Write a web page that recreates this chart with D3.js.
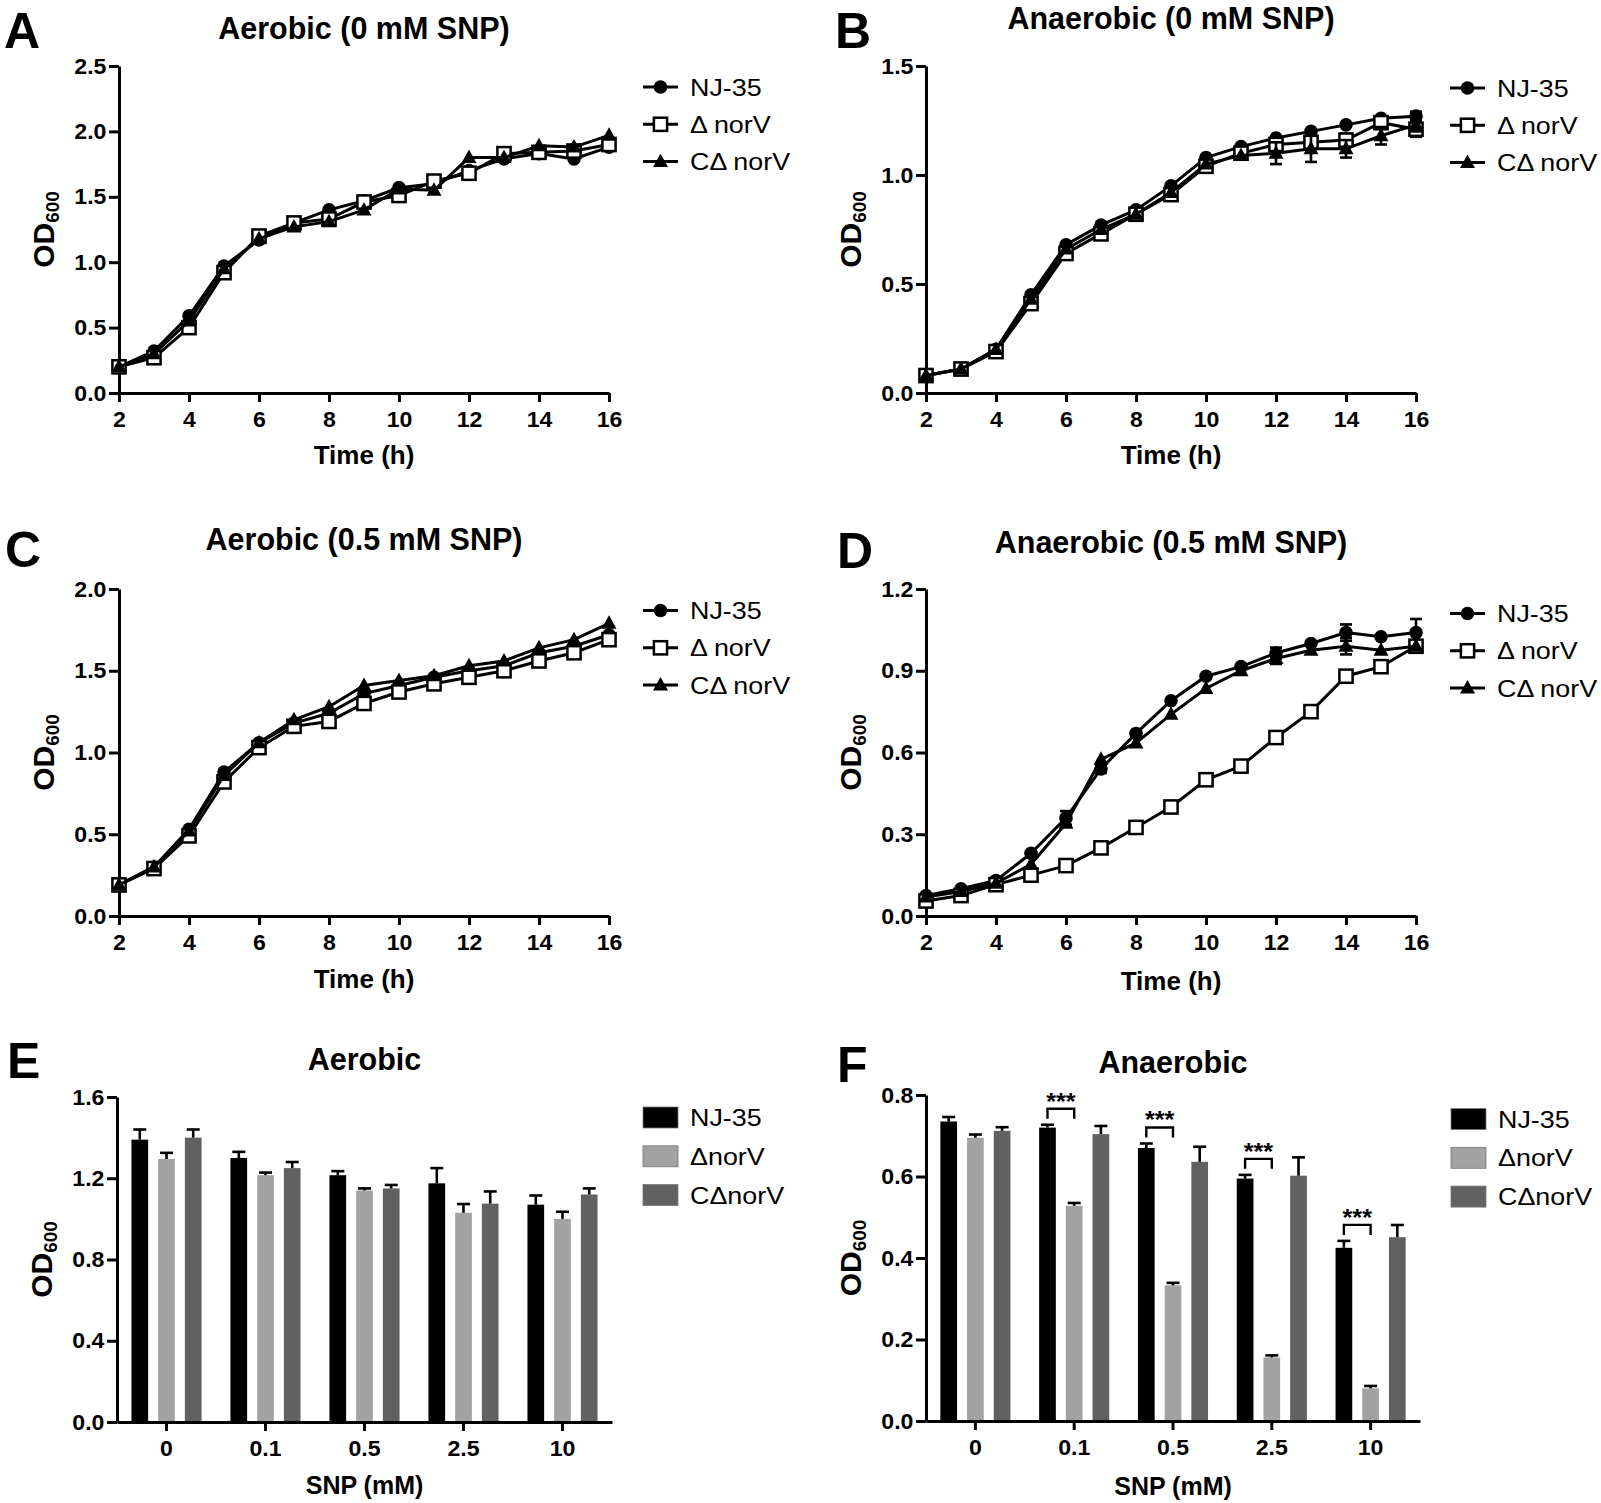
<!DOCTYPE html>
<html><head><meta charset="utf-8">
<script src="https://cdn.jsdelivr.net/npm/d3@7/dist/d3.min.js"></script>
<style>
body{margin:0;background:#fff}
svg{display:block}
text{font-family:"Liberation Sans",Arial,Helvetica,sans-serif;fill:#000}
</style>
</head><body>
<svg id="fig" width="1601" height="1503"></svg>
<script>
// ---------------- data ----------------
const times = [2,3,4,5,6,7,8,9,10,11,12,13,14,15,16];
const timeTicks = [2,4,6,8,10,12,14,16];
const lineSeriesNames = ["NJ-35","Δ norV","CΔ norV"];
const barSeriesNames = ["NJ-35","ΔnorV","CΔnorV"];
const snpLevels = ["0","0.1","0.5","2.5","10"];

// Panel A: Aerobic (0 mM SNP)
const aNJ   = [0.20,0.32,0.59,0.97,1.17,1.30,1.40,1.47,1.57,1.60,1.70,1.79,1.83,1.79,1.88];
const aDel  = [0.20,0.27,0.50,0.92,1.20,1.30,1.33,1.46,1.51,1.62,1.68,1.83,1.84,1.85,1.90];
const aComp = [0.20,0.30,0.55,0.95,1.18,1.27,1.31,1.40,1.56,1.55,1.80,1.80,1.89,1.88,1.97];
const aNJErr   = [0,0,0,0,0,0,0,0,0,0,0,0,0,0,0];
const aDelErr  = [0,0,0,0,0,0,0,0,0,0,0,0,0,0,0];
const aCompErr = [0,0,0,0,0,0,0,0,0,0,0,0,0,0,0];
const aTicks = [0,0.5,1.0,1.5,2.0,2.5];

// Panel B: Anaerobic (0 mM SNP)
const bNJ   = [0.08,0.11,0.20,0.45,0.68,0.77,0.84,0.95,1.08,1.13,1.17,1.20,1.23,1.26,1.27];
const bDel  = [0.08,0.11,0.19,0.41,0.64,0.73,0.82,0.91,1.04,1.10,1.14,1.15,1.16,1.24,1.21];
const bComp = [0.08,0.11,0.20,0.43,0.66,0.75,0.82,0.92,1.05,1.09,1.10,1.12,1.12,1.18,1.23];
const bNJErr   = [0,0,0,0,0,0,0,0,0,0,0,0,0,0,0.02];
const bDelErr  = [0,0,0,0,0,0,0,0,0,0,0.02,0.03,0.03,0.02,0.035];
const bCompErr = [0,0,0,0,0,0,0,0,0,0,0.05,0.06,0.04,0.04,0.03];
const bTicks = [0,0.5,1.0,1.5];

// Panel C: Aerobic (0.5 mM SNP)
const cNJ   = [0.19,0.30,0.53,0.88,1.06,1.18,1.24,1.36,1.41,1.46,1.50,1.53,1.61,1.65,1.72];
const cDel  = [0.19,0.29,0.49,0.82,1.03,1.16,1.19,1.30,1.37,1.42,1.46,1.50,1.56,1.61,1.69];
const cComp = [0.19,0.30,0.52,0.86,1.06,1.20,1.28,1.41,1.44,1.47,1.53,1.56,1.64,1.69,1.79];
const cNJErr   = [0,0,0,0,0,0,0,0,0,0,0,0,0,0,0];
const cDelErr  = [0,0,0,0,0,0,0,0,0,0,0,0,0,0,0];
const cCompErr = [0,0,0,0,0,0,0,0,0,0,0,0,0,0,0];
const cTicks = [0,0.5,1.0,1.5,2.0];

// Panel D: Anaerobic (0.5 mM SNP)
const dNJ   = [0.075,0.10,0.13,0.23,0.36,0.54,0.67,0.79,0.88,0.915,0.965,1.00,1.04,1.025,1.04];
const dDel  = [0.055,0.075,0.115,0.15,0.185,0.25,0.325,0.40,0.50,0.55,0.655,0.75,0.88,0.915,0.99];
const dComp = [0.07,0.09,0.12,0.19,0.34,0.575,0.635,0.74,0.835,0.90,0.945,0.975,0.99,0.975,0.99];
const dNJErr   = [0,0,0,0,0.025,0.015,0,0,0,0,0.02,0,0.03,0,0.05];
const dDelErr  = [0,0,0,0,0,0,0,0,0,0,0,0,0,0,0.015];
const dCompErr = [0,0,0,0,0,0,0,0,0,0,0.02,0,0.03,0,0];
const dTicks = [0,0.3,0.6,0.9,1.2];

// Panel E: Aerobic bars
const eNJ   = [1.39,1.30,1.215,1.175,1.07];
const eDel  = [1.295,1.215,1.14,1.03,1.00];
const eComp = [1.40,1.25,1.15,1.075,1.12];
const eNJErr   = [0.05,0.03,0.02,0.075,0.045];
const eDelErr  = [0.03,0.013,0.01,0.043,0.035];
const eCompErr = [0.04,0.03,0.017,0.06,0.03];
const eTicks = [0,0.4,0.8,1.2,1.6];

// Panel F: Anaerobic bars
const fNJ   = [0.735,0.72,0.67,0.595,0.425];
const fDel  = [0.695,0.528,0.333,0.156,0.08];
const fComp = [0.712,0.704,0.636,0.602,0.451];
const fNJErr   = [0.011,0.007,0.011,0.009,0.017];
const fDelErr  = [0.008,0.007,0.006,0.005,0.006];
const fCompErr = [0.009,0.02,0.037,0.045,0.03];
const fSig = ["","***","***","***","***"];
const fTicks = [0,0.2,0.4,0.6,0.8];

const barColors = ["#000000","#a2a2a2","#616161"];
// ---------------- drawing ----------------
const svg = d3.select("#fig");
const fmt1 = d3.format(".1f");

function label(g, x, y, txt, size, weight, anchor, sx){
  return g.append("text")
    .attr("transform", `translate(${x},${y}) scale(${sx||1},1)`)
    .attr("text-anchor", anchor)
    .attr("font-size", size)
    .attr("font-weight", weight)
    .text(txt);
}

function ylabel(g, x, y){
  const t = g.append("text")
    .attr("transform", `translate(${x},${y}) rotate(-90)`)
    .attr("text-anchor","middle")
    .attr("font-weight","bold");
  t.append("tspan").attr("font-size",30).text("OD");
  t.append("tspan").attr("font-size",19).attr("dy",5).text("600");
}

function styleAxis(ag){
  ag.attr("font-family",null).attr("font-size",null);
  ag.select(".domain").attr("stroke","#000").attr("stroke-width",3);
  ag.selectAll(".tick line").attr("stroke","#000").attr("stroke-width",3);
  ag.selectAll(".tick text").attr("font-size",22).attr("font-weight","bold")
    .attr("fill","#000").attr("transform","scale(1.05,1)");
}

function marker(g, kind, cx, cy){
  if(kind===0){
    g.append("circle").attr("cx",cx).attr("cy",cy).attr("r",6.8).attr("fill","#000");
  } else if(kind===1){
    g.append("rect").attr("x",cx-6.6).attr("y",cy-6.6).attr("width",13.2).attr("height",13.2)
      .attr("fill","#fff").attr("stroke","#000").attr("stroke-width",2.5);
  } else {
    g.append("path").attr("d",`M${cx},${cy-8}L${cx+7.5},${cy+5.5}L${cx-7.5},${cy+5.5}Z`).attr("fill","#000");
  }
}

function lineChart(cfg){
  const g = svg.append("g");
  const x = d3.scaleLinear().domain([2,16]).range([cfg.x0,cfg.x1]);
  const y = d3.scaleLinear().domain([0,cfg.ymax]).range([cfg.yb,cfg.yt]);
  const yax = g.append("g").attr("transform",`translate(${cfg.x0},0)`)
    .call(d3.axisLeft(y).tickValues(cfg.ticks).tickFormat(fmt1).tickSize(10).tickSizeOuter(0).tickPadding(2));
  styleAxis(yax);
  const xax = g.append("g").attr("transform",`translate(0,${cfg.yb})`)
    .call(d3.axisBottom(x).tickValues(timeTicks).tickFormat(d3.format("d")).tickSize(9).tickSizeOuter(0).tickPadding(9));
  styleAxis(xax);

  const line = d3.line().x(d=>x(d.t)).y(d=>y(d.v));
  cfg.series.forEach((s,si)=>{
    const pts = times.map((t,i)=>({t, v:s.v[i], e:s.e[i]}));
    const sg = g.append("g");
    sg.append("path").datum(pts).attr("d",line).attr("fill","none").attr("stroke","#000").attr("stroke-width",3);
    pts.filter(p=>p.e>0).forEach(p=>{
      const xx = x(p.t), y1 = y(p.v - p.e), y2 = y(p.v + p.e);
      sg.append("line").attr("x1",xx).attr("x2",xx).attr("y1",y1).attr("y2",y2).attr("stroke","#000").attr("stroke-width",2.6);
      [y1,y2].forEach(yy=>sg.append("line").attr("x1",xx-6).attr("x2",xx+6).attr("y1",yy).attr("y2",yy).attr("stroke","#000").attr("stroke-width",2.6));
    });
    pts.forEach(p=>marker(sg, si, x(p.t), y(p.v)));
  });

  // legend
  lineSeriesNames.forEach((n,i)=>{
    const ly = cfg.ly + i*37.3;
    g.append("line").attr("x1",cfg.lx).attr("x2",cfg.lx+35).attr("y1",ly).attr("y2",ly).attr("stroke","#000").attr("stroke-width",3);
    marker(g, i, cfg.lx+17.5, ly);
    label(g, cfg.lx+47, ly+8.5, n, 24, "normal", "start", 1.12);
  });

  label(g, (cfg.x0+cfg.x1)/2, cfg.titleY, cfg.title, 30.5, "bold", "middle", 1);
  label(g, cfg.letterX, cfg.letterY, cfg.letter, 50, "bold", "start", 1);
  label(g, (cfg.x0+cfg.x1)/2, cfg.xlabY, "Time (h)", 26, "bold", "middle", 1);
  ylabel(g, cfg.x0-65, (cfg.yt+cfg.yb)/2);
}

function barChart(cfg){
  const g = svg.append("g");
  const xb = d3.scaleBand().domain(snpLevels).range([cfg.x0,cfg.x1]).paddingInner(0).paddingOuter(0);
  const xi = d3.scaleBand().domain([0,1,2]).range([-35.05,35.05]).paddingInner(0.375).paddingOuter(0);
  const y = d3.scaleLinear().domain([0,cfg.ymax]).range([cfg.yb,cfg.yt]);

  cfg.series.forEach((s,si)=>{
    snpLevels.forEach((c,ci)=>{
      const cx = xb(c) + xb.bandwidth()/2 + xi(si);
      const w = xi.bandwidth();
      g.append("rect").attr("x",cx).attr("y",y(s.v[ci])).attr("width",w).attr("height",y(0)-y(s.v[ci]))
        .attr("fill",barColors[si]);
      const mx = cx + w/2, ytop = y(s.v[ci]+s.e[ci]);
      g.append("line").attr("x1",mx).attr("x2",mx).attr("y1",y(s.v[ci])).attr("y2",ytop).attr("stroke","#000").attr("stroke-width",2.6);
      g.append("line").attr("x1",mx-6.5).attr("x2",mx+6.5).attr("y1",ytop).attr("y2",ytop).attr("stroke","#000").attr("stroke-width",2.6);
    });
  });

  if(cfg.sig){
    cfg.sig.forEach((lab,ci)=>{
      if(!lab) return;
      const c0 = xb(snpLevels[ci]) + xb.bandwidth()/2;
      const xa = c0 + xi(0) + xi.bandwidth()/2;
      const xbb = c0 + xi(1) + xi.bandwidth()/2;
      const top = y(cfg.series[0].v[ci] + cfg.series[0].e[ci]) - 16;
      g.append("path").attr("d",`M${xa},${top+10}V${top}H${xbb}V${top+10}`).attr("fill","none").attr("stroke","#000").attr("stroke-width",2.4);
      label(g, (xa+xbb)/2, top+1, lab, 24, "bold", "middle", 1.05);
    });
  }

  const yax = g.append("g").attr("transform",`translate(${cfg.x0},0)`)
    .call(d3.axisLeft(y).tickValues(cfg.ticks).tickFormat(fmt1).tickSize(10).tickSizeOuter(0).tickPadding(2));
  styleAxis(yax);
  const xax = g.append("g").attr("transform",`translate(0,${cfg.yb})`)
    .call(d3.axisBottom(xb).tickSize(9).tickSizeOuter(0).tickPadding(9));
  styleAxis(xax);

  barSeriesNames.forEach((n,i)=>{
    const ly = cfg.ly + i*38.8;
    g.append("rect").attr("x",cfg.lx).attr("y",ly-10.5).attr("width",35).attr("height",21).attr("fill",barColors[i])
      .attr("stroke","#777").attr("stroke-width",0.8);
    label(g, cfg.lx+47, ly+8.5, n, 24, "normal", "start", 1.12);
  });

  label(g, (cfg.x0+cfg.x1)/2, cfg.titleY, cfg.title, 30.5, "bold", "middle", 1);
  label(g, cfg.letterX, cfg.letterY, cfg.letter, 50, "bold", "start", 1);
  label(g, (cfg.x0+cfg.x1)/2, cfg.xlabY, "SNP (mM)", 25, "bold", "middle", 1);
  ylabel(g, cfg.x0-65, (cfg.yt+cfg.yb)/2);
}

lineChart({x0:119,x1:609,yt:66,yb:393,ymax:2.5,ticks:aTicks,title:"Aerobic (0 mM SNP)",titleY:39,
  letter:"A",letterX:4,letterY:48,xlabY:464,lx:643,ly:87,
  series:[{v:aNJ,e:aNJErr},{v:aDel,e:aDelErr},{v:aComp,e:aCompErr}]});
lineChart({x0:926,x1:1416,yt:66,yb:393,ymax:1.5,ticks:bTicks,title:"Anaerobic (0 mM SNP)",titleY:29,
  letter:"B",letterX:835,letterY:48,xlabY:464,lx:1450,ly:88,
  series:[{v:bNJ,e:bNJErr},{v:bDel,e:bDelErr},{v:bComp,e:bCompErr}]});
lineChart({x0:119,x1:609,yt:589,yb:916,ymax:2.0,ticks:cTicks,title:"Aerobic (0.5 mM SNP)",titleY:550,
  letter:"C",letterX:5,letterY:567,xlabY:988,lx:643,ly:610.5,
  series:[{v:cNJ,e:cNJErr},{v:cDel,e:cDelErr},{v:cComp,e:cCompErr}]});
lineChart({x0:926,x1:1416,yt:589,yb:916,ymax:1.2,ticks:dTicks,title:"Anaerobic (0.5 mM SNP)",titleY:553,
  letter:"D",letterX:837,letterY:568,xlabY:990,lx:1450,ly:613.5,
  series:[{v:dNJ,e:dNJErr},{v:dDel,e:dDelErr},{v:dComp,e:dCompErr}]});
barChart({x0:117,x1:612,yt:1097,yb:1422,ymax:1.6,ticks:eTicks,title:"Aerobic",titleY:1070,
  letter:"E",letterX:7,letterY:1078,xlabY:1494,lx:643,ly:1117.5,
  series:[{v:eNJ,e:eNJErr},{v:eDel,e:eDelErr},{v:eComp,e:eCompErr}]});
barChart({x0:926,x1:1420,yt:1095,yb:1421,ymax:0.8,ticks:fTicks,title:"Anaerobic",titleY:1073,
  letter:"F",letterX:837,letterY:1082,xlabY:1495,lx:1451,ly:1119,sig:fSig,
  series:[{v:fNJ,e:fNJErr},{v:fDel,e:fDelErr},{v:fComp,e:fCompErr}]});
</script>
</body></html>
